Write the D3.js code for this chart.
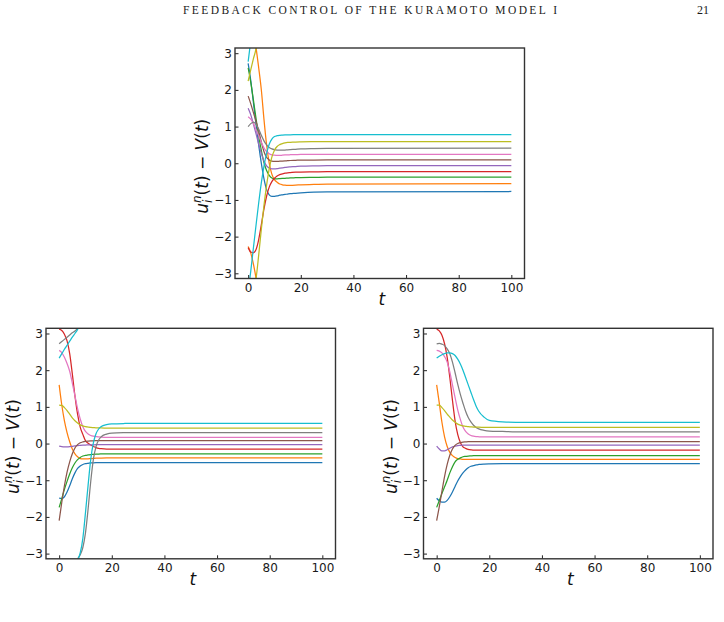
<!DOCTYPE html>
<html><head><meta charset="utf-8">
<script src="https://cdn.jsdelivr.net/npm/d3@7"></script>
<style>body{margin:0;background:#fff}svg{display:block}</style>
</head><body>
<svg id="c" width="724" height="622"></svg>
<script>
// ---- data ----
const T = [0,1,2,3,4,5,6,7,8,9,10,11,12,13,14,15,16,18,20,25,30,100];
const xTicks = [0,20,40,60,80,100];
const yTicks = [-3,-2,-1,0,1,2,3];
const colors = ["#1f77b4","#ff7f0e","#2ca02c","#d62728","#9467bd","#8c564b","#e377c2","#7f7f7f","#bcbd22","#17becf"];
const headerText = "FEEDBACK CONTROL OF THE KURAMOTO MODEL I";
const pageNumber = "21";

// top panel (phase values, unwrapped)
const topBlue   = [2.72,2.25,1.65,1.05,0.5,0.0,-0.42,-0.72,-0.86,-0.9,-0.9,-0.89,-0.87,-0.86,-0.85,-0.84,-0.83,-0.82,-0.81,-0.79,-0.78,-0.77];
const topOrange = [-2.27,-2.45,-2.75,-3.14,-3.68,-4.28,-5.08,-5.78,-6.28,-6.58,-6.73,-6.8,-6.85,-6.87,-6.88,-6.885,-6.885,-6.88,-6.87,-6.86,-6.85,-6.84];
const topGreen  = [2.6,2.2,1.72,1.22,0.75,0.35,0.02,-0.2,-0.33,-0.4,-0.42,-0.425,-0.42,-0.415,-0.41,-0.405,-0.4,-0.395,-0.39,-0.385,-0.38,-0.38];
const topRed    = [-2.3,-2.42,-2.44,-2.35,-2.08,-1.68,-1.25,-0.9,-0.65,-0.5,-0.41,-0.35,-0.31,-0.29,-0.27,-0.26,-0.255,-0.245,-0.24,-0.235,-0.23,-0.23];
const topPurple = [1.5,1.32,1.07,0.8,0.52,0.27,0.06,-0.07,-0.13,-0.15,-0.15,-0.145,-0.135,-0.125,-0.115,-0.105,-0.1,-0.09,-0.08,-0.07,-0.067,-0.065];
const topBrown  = [1.83,1.62,1.38,1.14,0.88,0.58,0.32,0.16,0.09,0.06,0.05,0.05,0.055,0.06,0.065,0.07,0.075,0.08,0.085,0.088,0.09,0.09];
const topPink   = [1.27,1.2,1.08,0.92,0.75,0.57,0.42,0.32,0.26,0.23,0.22,0.215,0.215,0.22,0.225,0.23,0.232,0.236,0.24,0.243,0.245,0.245];
const topGray   = [1.0,1.08,1.12,1.06,0.93,0.76,0.61,0.5,0.43,0.39,0.37,0.36,0.355,0.355,0.36,0.365,0.37,0.38,0.39,0.4,0.405,0.41];
const topOlive  = [2.24,2.55,2.85,3.14,3.78,4.48,5.13,5.68,6.13,6.45,6.64,6.74,6.79,6.82,6.84,6.85,6.853,6.861,6.865,6.87,6.873,6.873];
const topCyan   = [2.77,3.35,3.98,4.6,5.2,5.75,6.2,6.55,6.8,6.94,7.01,7.035,7.045,7.05,7.055,7.06,7.06,7.062,7.063,7.063,7.063,7.063];

// bottom-left panel
const blBlue   = [-1.49,-1.5,-1.45,-1.32,-1.15,-0.96,-0.8,-0.68,-0.61,-0.57,-0.55,-0.54,-0.53,-0.525,-0.522,-0.52,-0.52,-0.52,-0.52,-0.52,-0.52,-0.52];
const blOrange = [1.6,1.05,0.62,0.3,0.05,-0.15,-0.28,-0.36,-0.41,-0.42,-0.42,-0.415,-0.41,-0.405,-0.4,-0.4,-0.395,-0.39,-0.39,-0.39,-0.39,-0.39];
const blGreen  = [-1.74,-1.5,-1.25,-1.03,-0.83,-0.66,-0.53,-0.44,-0.38,-0.34,-0.32,-0.31,-0.3,-0.295,-0.29,-0.285,-0.283,-0.28,-0.28,-0.28,-0.28,-0.28];
const blRed    = [3.12,3.08,2.98,2.8,2.45,1.9,1.3,0.8,0.45,0.25,0.08,0.01,-0.04,-0.08,-0.11,-0.13,-0.14,-0.15,-0.15,-0.15,-0.15,-0.15];
const blPurple = [-0.07,-0.085,-0.09,-0.09,-0.085,-0.075,-0.065,-0.055,-0.05,-0.045,-0.04,-0.038,-0.035,-0.033,-0.032,-0.03,-0.03,-0.03,-0.03,-0.03,-0.03,-0.03];
const blBrown  = [-2.1,-1.6,-1.15,-0.78,-0.5,-0.28,-0.12,-0.03,0.02,0.045,0.06,0.068,0.073,0.076,0.078,0.08,0.08,0.08,0.08,0.08,0.08,0.08];
const blPink   = [2.54,2.48,2.35,2.18,1.97,1.65,1.3,0.95,0.67,0.46,0.33,0.26,0.22,0.2,0.19,0.18,0.175,0.17,0.17,0.17,0.17,0.17];
const blGray   = [2.72,2.78,2.84,2.9,2.96,3.02,3.07,3.14,3.25,3.45,3.85,4.5,5.25,5.85,6.2,6.38,6.47,6.54,6.57,6.58,6.583,6.583];
const blOlive  = [1.05,1.04,0.98,0.9,0.8,0.7,0.62,0.56,0.51,0.48,0.46,0.45,0.44,0.435,0.43,0.43,0.425,0.42,0.42,0.42,0.42,0.42];
const blCyan   = [2.33,2.45,2.57,2.68,2.79,2.9,3.0,3.11,3.3,3.7,4.4,5.15,5.85,6.3,6.55,6.68,6.75,6.8,6.82,6.83,6.833,6.833];

// bottom-right panel
const brBlue   = [-1.49,-1.56,-1.6,-1.6,-1.55,-1.45,-1.32,-1.17,-1.02,-0.9,-0.8,-0.72,-0.66,-0.62,-0.6,-0.58,-0.57,-0.56,-0.555,-0.55,-0.55,-0.55];
const brOrange = [1.6,1.1,0.58,0.18,-0.08,-0.24,-0.33,-0.38,-0.41,-0.42,-0.43,-0.43,-0.43,-0.43,-0.43,-0.43,-0.43,-0.43,-0.43,-0.43,-0.43,-0.43];
const brGreen  = [-1.74,-1.55,-1.36,-1.18,-1.0,-0.8,-0.63,-0.5,-0.43,-0.39,-0.36,-0.35,-0.34,-0.335,-0.33,-0.33,-0.33,-0.33,-0.33,-0.33,-0.33,-0.33];
const brRed    = [3.12,3.07,2.95,2.72,2.35,1.8,1.18,0.62,0.25,0.03,-0.09,-0.13,-0.16,-0.17,-0.18,-0.18,-0.18,-0.18,-0.18,-0.18,-0.18,-0.18];
const brPurple = [-0.07,-0.15,-0.2,-0.2,-0.17,-0.13,-0.09,-0.07,-0.055,-0.05,-0.045,-0.04,-0.04,-0.04,-0.04,-0.04,-0.04,-0.04,-0.04,-0.04,-0.04,-0.04];
const brBrown  = [-2.1,-1.72,-1.3,-0.9,-0.57,-0.32,-0.15,-0.05,0.0,0.025,0.04,0.045,0.05,0.05,0.05,0.05,0.05,0.05,0.05,0.05,0.05,0.05];
const brPink   = [2.54,2.52,2.47,2.37,2.22,1.95,1.6,1.25,0.92,0.66,0.45,0.33,0.26,0.22,0.2,0.19,0.185,0.18,0.18,0.18,0.18,0.18];
const brGray   = [2.72,2.73,2.71,2.67,2.58,2.45,2.22,1.93,1.62,1.34,1.1,0.88,0.71,0.59,0.5,0.44,0.4,0.36,0.34,0.33,0.32,0.32];
const brOlive  = [1.05,1.05,0.98,0.9,0.8,0.72,0.64,0.58,0.53,0.5,0.48,0.47,0.46,0.455,0.45,0.45,0.445,0.44,0.44,0.44,0.44,0.44];
const brCyan   = [2.33,2.38,2.42,2.45,2.47,2.47,2.45,2.4,2.3,2.17,2.0,1.8,1.6,1.4,1.2,1.02,0.88,0.72,0.63,0.59,0.58,0.58];

// ---- drawing ----
const svg = d3.select("#c");
const W = 289.5, H = 230.5;
const TAU = 2 * Math.PI;
const FONT = "'DejaVu Sans', sans-serif";

svg.append("text").attr("x", 183).attr("y", 14)
  .attr("font-family", "'Liberation Serif', serif").attr("font-size", 11.5)
  .attr("textLength", 374).attr("lengthAdjust", "spacing").attr("fill", "#1a1a1a")
  .text(headerText);
svg.append("text").attr("x", 709).attr("y", 14).attr("text-anchor", "end")
  .attr("font-family", "'Liberation Serif', serif").attr("font-size", 12).attr("fill", "#1a1a1a")
  .text(pageNumber);

function panel(id, x0, y0, series) {
  const x = d3.scaleLinear().domain([-5, 105]).range([x0, x0 + W]);
  const y = d3.scaleLinear().domain([-Math.PI, Math.PI]).range([y0 + H, y0]);
  const g = svg.append("g");
  g.append("clipPath").attr("id", "clip" + id).append("rect")
    .attr("x", x0).attr("y", y0).attr("width", W).attr("height", H);
  const lines = g.append("g").attr("clip-path", `url(#clip${id})`);
  series.forEach((vals, i) => {
    [-1, 0, 1].forEach(k => {
      const line = d3.line().x((d, j) => x(T[j])).y(d => y(d + k * TAU)).curve(d3.curveMonotoneX);
      lines.append("path").attr("d", line(vals)).attr("fill", "none")
        .attr("stroke", colors[i]).attr("stroke-width", 1.25);
    });
  });
  const ax = g.append("g").attr("transform", `translate(0,${y0 + H})`)
    .call(d3.axisBottom(x).tickValues(xTicks).tickSizeInner(-3.5).tickSizeOuter(0).tickPadding(4.5));
  const ay = g.append("g").attr("transform", `translate(${x0},0)`)
    .call(d3.axisLeft(y).tickValues(yTicks).tickSizeInner(-3.5).tickSizeOuter(0).tickPadding(3).tickFormat(d3.format("d")));
  [ax, ay].forEach(a => {
    a.select(".domain").remove();
    a.selectAll("line").attr("stroke", "#222");
    a.selectAll("text").attr("font-family", FONT).attr("font-size", 12).attr("fill", "#1a1a1a");
  });
  g.append("rect").attr("x", x0).attr("y", y0).attr("width", W).attr("height", H)
    .attr("fill", "none").attr("stroke", "#333").attr("stroke-width", 1.4);
  // x label
  g.append("text").attr("x", x0 + W / 2 + 2).attr("y", y0 + H + 26).attr("text-anchor", "middle")
    .attr("font-family", FONT).attr("font-style", "italic").attr("font-size", 17).attr("fill", "#111").text("t");
  // y label
  const yl = g.append("text").attr("transform", `translate(${x0 - 27},${y0 + H / 2 + 3}) rotate(-90)`)
    .attr("text-anchor", "middle").attr("font-family", FONT).attr("font-size", 17).attr("fill", "#111");
  yl.append("tspan").attr("font-style", "italic").text("u");
  yl.append("tspan").attr("font-style", "italic").attr("font-size", 12).attr("dy", 4).text("i");
  yl.append("tspan").attr("font-style", "italic").attr("font-size", 12).attr("dx", -3.4).attr("dy", -11).text("n");
  yl.append("tspan").attr("dy", 7).text("(");
  yl.append("tspan").attr("font-style", "italic").text("t");
  yl.append("tspan").text(") \u2212 ");
  yl.append("tspan").attr("font-style", "italic").text("V");
  yl.append("tspan").text("(");
  yl.append("tspan").attr("font-style", "italic").text("t");
  yl.append("tspan").text(")");
}

panel("top", 235, 48, [topBlue, topOrange, topGreen, topRed, topPurple, topBrown, topPink, topGray, topOlive, topCyan]);
panel("bl", 46, 328.3, [blBlue, blOrange, blGreen, blRed, blPurple, blBrown, blPink, blGray, blOlive, blCyan]);
panel("br", 423.5, 328.3, [brBlue, brOrange, brGreen, brRed, brPurple, brBrown, brPink, brGray, brOlive, brCyan]);
</script>
</body></html>
